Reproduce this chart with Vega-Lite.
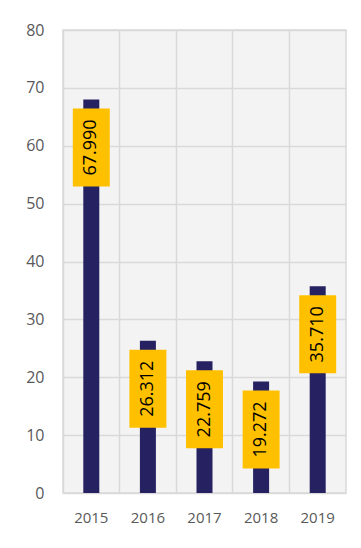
{
  "$schema": "https://vega.github.io/schema/vega-lite/v6.json",
  "autosize": {"type": "none"},
  "width": 283,
  "height": 463,
  "padding": {"left": 63, "top": 30, "right": 15, "bottom": 55},
  "background": "white",
  "config": {
    "view": {"fill": "#f3f3f3", "stroke": "#d9d9d9", "strokeWidth": 1.5},
    "font": "Open Sans"
  },
  "data": {
    "values": [
      {"year": "2015", "value": 67.99},
      {"year": "2016", "value": 26.312},
      {"year": "2017", "value": 22.759},
      {"year": "2018", "value": 19.272},
      {"year": "2019", "value": 35.71}
    ]
  },
  "encoding": {
    "x": {
      "field": "year",
      "type": "nominal",
      "scale": {"paddingInner": 0, "paddingOuter": 0},
      "axis": {
        "title": null,
        "labelAngle": 0,
        "labelFontSize": 15,
        "labelColor": "#595959",
        "labelPadding": 17,
        "ticks": false,
        "domain": false,
        "grid": true,
        "bandPosition": 0,
        "gridColor": "#d9d9d9",
        "gridWidth": 1.5
      }
    },
    "y": {
      "field": "value",
      "type": "quantitative",
      "scale": {"domain": [0, 80], "nice": false},
      "axis": {
        "title": null,
        "values": [0, 10, 20, 30, 40, 50, 60, 70, 80],
        "labelFontSize": 16,
        "labelColor": "#595959",
        "labelPadding": 19,
        "ticks": false,
        "domain": false,
        "gridColor": "#d9d9d9",
        "gridWidth": 1.5
      }
    }
  },
  "layer": [
    {
      "mark": {"type": "bar", "width": 16, "color": "#262262"}
    },
    {
      "mark": {
        "type": "point",
        "shape": "M-0.474,-1L0.474,-1L0.474,1L-0.474,1Z",
        "size": 6084,
        "filled": true,
        "opacity": 1,
        "color": "#FFC000",
        "yOffset": 48
      }
    },
    {
      "mark": {
        "type": "text",
        "angle": 270,
        "align": "center",
        "baseline": "middle",
        "fontSize": 18,
        "color": "#000000",
        "yOffset": 48
      },
      "encoding": {
        "text": {"field": "value", "type": "quantitative", "format": ".3f"}
      }
    }
  ]
}
